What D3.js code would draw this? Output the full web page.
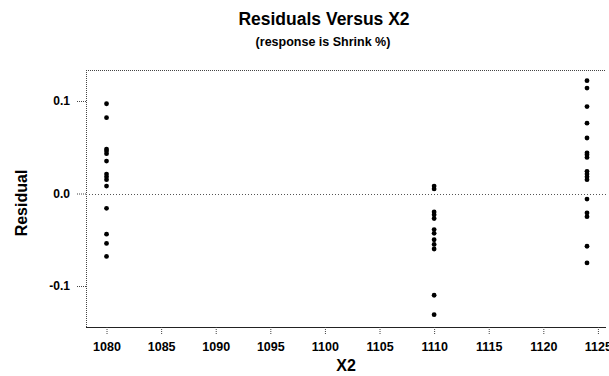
<!DOCTYPE html>
<html>
<head>
<meta charset="utf-8">
<script src="https://cdn.jsdelivr.net/npm/d3@7"></script>
<style>
  body { margin: 0; background: #fff; }
  svg { display: block; font-family: "Liberation Sans", Arial, sans-serif; }
</style>
</head>
<body>
<svg></svg>
<script>
// data
const xLevels = [1080, 1110, 1124];
const res1080 = [0.097, 0.082, 0.048, 0.046, 0.043, 0.035, 0.021, 0.018, 0.015, 0.008, -0.016, -0.044, -0.054, -0.068];
const res1110 = [0.008, 0.005, -0.020, -0.023, -0.027, -0.039, -0.043, -0.050, -0.055, -0.060, -0.110, -0.131];
const res1124 = [0.122, 0.114, 0.094, 0.076, 0.060, 0.044, 0.042, 0.039, 0.024, 0.021, 0.018, 0.015, -0.006, -0.021, -0.025, -0.057, -0.075];
const xTicks = [1080, 1085, 1090, 1095, 1100, 1105, 1110, 1115, 1120, 1125];
const yTicks = [-0.1, 0.0, 0.1];

// configuration of svg/plot area
let config = { 'svg': {}, 'margin': {}, 'plot': {} };
config.svg.width = 609;
config.svg.height = 376;
config.margin.top = 70;
config.margin.left = 86;
config.margin.right = 3;
config.margin.bottom = 49;
config.plot.width = config.svg.width - config.margin.left - config.margin.right;
config.plot.height = config.svg.height - config.margin.top - config.margin.bottom;

let svg = d3.select('svg')
  .attr('width', config.svg.width)
  .attr('height', config.svg.height);

let x = d3.scaleLinear()
  .domain([1078.12, 1125.74])
  .range([config.margin.left, config.margin.left + config.plot.width]);

let y = d3.scaleLinear()
  .domain([-0.1443, 0.1335])
  .range([config.margin.top + config.plot.height, config.margin.top]);

let points = [];
[res1080, res1110, res1124].forEach((vals, i) => {
  vals.forEach(v => points.push({ x: xLevels[i], y: v }));
});

// plot frame (dotted)
let frame = svg.append('g').attr('id', 'frame')
  .attr('fill', 'none').attr('stroke', '#444').attr('stroke-width', 1);
let x0 = x.range()[0], x1 = x.range()[1];
let yTop = y.range()[1], yBot = y.range()[0];
frame.append('line').attr('x1', x0).attr('x2', x1).attr('y1', yTop + 0.5).attr('y2', yTop + 0.5)
  .attr('stroke-dasharray', '1,1');
frame.append('line').attr('x1', x0 + 0.5).attr('x2', x0 + 0.5).attr('y1', yTop).attr('y2', yBot)
  .attr('stroke-dasharray', '1,1');
frame.append('line').attr('x1', x0).attr('x2', x1).attr('y1', yBot + 0.5).attr('y2', yBot + 0.5)
  .attr('stroke', '#222');

// reference line at zero
svg.append('line')
  .attr('x1', x0).attr('x2', x1)
  .attr('y1', Math.round(y(0)) + 0.5).attr('y2', Math.round(y(0)) + 0.5)
  .attr('stroke', '#555').attr('stroke-dasharray', '1,2');

// axes
let xAxis = svg.append('g')
  .attr('transform', `translate(0,${yBot})`)
  .call(d3.axisBottom(x).tickValues(xTicks).tickSize(8).tickPadding(7).tickFormat(d3.format('d')));
xAxis.select('.domain').remove();
xAxis.selectAll('.tick line').attr('stroke', '#444').attr('stroke-dasharray', '1,1');
xAxis.selectAll('.tick text')
  .attr('font-size', '12.5px').attr('font-weight', 'bold').attr('fill', '#000')
  .attr('font-family', '"Liberation Sans", Arial, sans-serif');

let yAxis = svg.append('g')
  .attr('transform', `translate(${x0},0)`)
  .call(d3.axisLeft(y).tickValues(yTicks).tickSize(10).tickPadding(6).tickFormat(d => d.toFixed(1)));
yAxis.select('.domain').remove();
yAxis.selectAll('.tick line').attr('stroke', '#444').attr('stroke-dasharray', '1,1');
yAxis.selectAll('.tick text')
  .attr('font-size', '12px').attr('font-weight', 'bold').attr('fill', '#000')
  .attr('font-family', '"Liberation Sans", Arial, sans-serif');

// points
svg.append('g').attr('id', 'points')
  .selectAll('circle')
  .data(points)
  .enter().append('circle')
  .attr('cx', d => x(d.x))
  .attr('cy', d => y(d.y))
  .attr('r', 2.4)
  .attr('fill', '#000');

// titles
svg.append('text')
  .attr('x', 324).attr('y', 25)
  .attr('text-anchor', 'middle')
  .attr('font-size', '17.5px').attr('font-weight', 'bold')
  .text('Residuals Versus X2');

svg.append('text')
  .attr('x', 323).attr('y', 46)
  .attr('text-anchor', 'middle')
  .attr('font-size', '12.5px').attr('font-weight', 'bold')
  .text('(response is Shrink %)');

svg.append('text')
  .attr('x', 346).attr('y', 371)
  .attr('text-anchor', 'middle')
  .attr('font-size', '16px').attr('font-weight', 'bold')
  .text('X2');

svg.append('text')
  .attr('transform', 'translate(27,203) rotate(-90)')
  .attr('text-anchor', 'middle')
  .attr('font-size', '16px').attr('font-weight', 'bold')
  .text('Residual');
</script>
</body>
</html>
